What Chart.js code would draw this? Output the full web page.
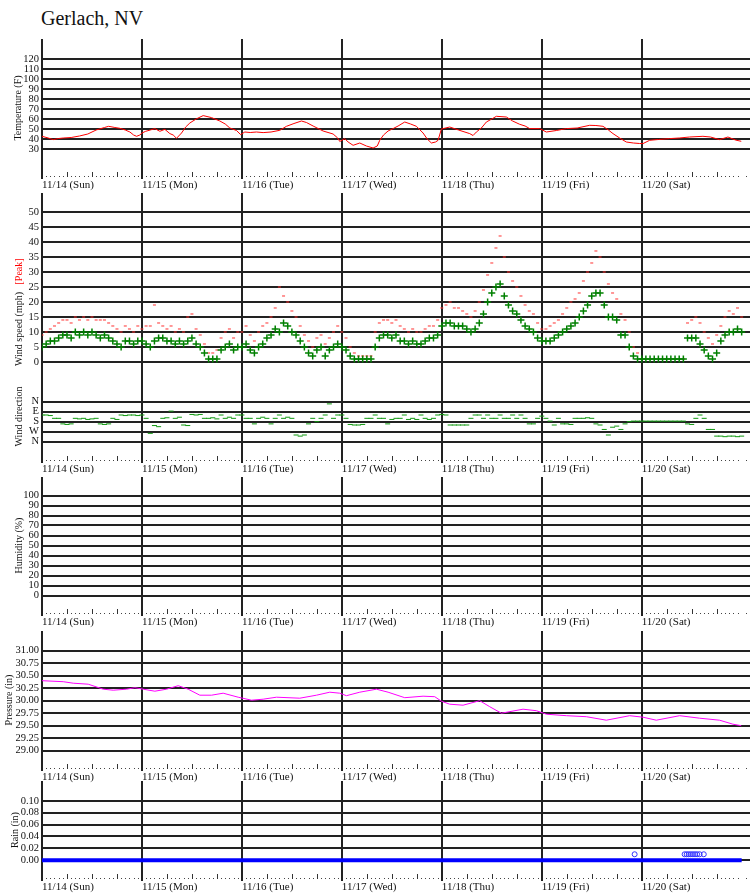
<!DOCTYPE html>
<html>
<head>
<meta charset="utf-8">
<script src="https://cdn.jsdelivr.net/npm/chart.js@4.4.1/dist/chart.umd.min.js"></script>
<style>
body { margin: 0; background: #fff; width: 751px; height: 895px; overflow: hidden; position: relative; }
canvas { position: absolute; left: 0; }
#title { position: absolute; left: 41px; top: 8px; font: 20px "Liberation Serif", "Times New Roman", serif; line-height: 20px; color: #111; }
</style>
</head>
<body>
<div id="title">Gerlach, NV</div>
<canvas id="temp" width="751" height="154" style="top:39px"></canvas>
<canvas id="wind" width="751" height="179" style="top:193px"></canvas>
<canvas id="dir" width="751" height="105" style="top:372px"></canvas>
<canvas id="hum" width="751" height="153" style="top:477px"></canvas>
<canvas id="pres" width="751" height="154" style="top:631px"></canvas>
<canvas id="rain" width="751" height="114" style="top:781px"></canvas>
<script>
// hours since 11/14 00:00
const dayHours = [0, 24, 48, 72, 96, 120, 144];
const dayLabels = ["11/14 (Sun)", "11/15 (Mon)", "11/16 (Tue)", "11/17 (Wed)", "11/18 (Thu)", "11/19 (Fri)", "11/20 (Sat)"];

const tempTicks = [30, 40, 50, 60, 70, 80, 90, 100, 110, 120];
const windTicks = [0, 5, 10, 15, 20, 25, 30, 35, 40, 45, 50];
const dirTicks = [0, 90, 180, 270, 360];
const dirLabels = ["N", "E", "S", "W", "N"];
const humTicks = [0, 10, 20, 30, 40, 50, 60, 70, 80, 90, 100];
const pressTicks = [29, 29.25, 29.5, 29.75, 30, 30.25, 30.5, 30.75, 31];
const rainTicks = [0, 0.02, 0.04, 0.06, 0.08, 0.10];

const tempHours = [0, 1.5, 2.7, 4, 5.1, 7, 9, 11, 13, 15, 16, 17.5, 18.7, 20, 21.1, 22, 22.7, 23.5, 24, 24.9,
  26, 27.1, 28.3, 29.5, 30.7, 31.5, 32.3, 33.5, 34.5, 35.5, 37, 38.7, 40.7, 42.7, 44, 45.1, 46.7, 47.7, 48.7, 50,
  51.5, 53.1, 55, 57.1, 58.7, 60.5, 62.3, 63.5, 65.1, 67.5, 69.9, 71, 71.5, 72.7, 73.5, 74.7, 76.3, 77.9, 79.5, 80.5,
  81.1, 82, 83.1, 84.3, 85.5, 87.1, 88.5, 89.9, 91.5, 92.5, 93.5, 94.5, 95.1, 95.9, 97.9, 100, 102.7, 103.5, 104.3, 105.5,
  106.7, 108, 109.1, 111.5, 113, 114.7, 116, 117.1, 119.5, 121.1, 123.5, 125.9, 128.5, 131.5, 133, 134.7, 136, 137.1, 138.7, 140.3,
  142, 143.5, 144.3, 145.9, 148, 150.7, 153, 155.5, 158.7, 160.5, 162.7, 164.7, 166.5, 167.9];
const tempF = [42.7, 41, 39.4, 40.5, 41, 41.5, 43, 45, 49, 51.5, 52.7, 51.5, 50.7, 49, 47, 44, 42.7, 44, 46, 47.7,
  49, 50.4, 47.7, 49.7, 45.4, 44, 40.7, 46, 52, 56, 60, 63.4, 61.4, 58, 55, 51, 48.5, 44.4, 47, 46.5,
  47, 46.4, 47, 48.7, 52.7, 55.5, 58, 56.5, 53, 48, 45, 41, 37.5, 40.4, 37, 33.7, 36, 33, 31, 33,
  38.7, 44, 48, 50.4, 53, 57, 55, 52.7, 46, 40, 36, 37, 38.7, 50, 52, 49, 45.4, 43.5, 47, 51,
  57, 60, 62.7, 62, 58, 54.7, 53, 50.4, 50.4, 47, 48.5, 50.4, 51, 53.7, 53.5, 52.7, 49, 45.4, 41, 37,
  36, 35.5, 35.4, 38.7, 39.5, 40.4, 41, 42, 42.7, 42, 39.4, 42, 39, 37.7];

// hourly readings, hour 0 .. 168
const windSpeed = [
  5, 6, 7, 7, 8, 9, 9, 8, 10, 9, 10, 9, 10, 9, 8, 9, 8, 7, 6, 5, 7, 7, 6, 7,
  7, 6, 5, 7, 8, 8, 7, 7, 6, 7, 6, 7, 8, 6, 5, 3, 1, 1, 1, 4, 5, 6, 4, 5,
  5, 6, 4, 3, 5, 6, 8, 9, 11, 10, 13, 12, 10, 9, 7, 5, 3, 2, 4, 5, 2, 4, 5, 6,
  5, 4, 2, 1, 1, 1, 1, 1, 5, 8, 9, 9, 8, 9, 7, 7, 6, 7, 6, 6, 7, 8, 8, 9,
  12, 13, 13, 12, 12, 12, 11, 10, 11, 13, 16, 20, 23, 25, 26, 22, 19, 17, 16, 14, 12, 11, 10, 8,
  7, 7, 7, 8, 9, 10, 11, 12, 13, 15, 17, 19, 22, 23, 23, 19, 15, 15, 14, 9, 9, 5, 2, 1,
  1, 1, 1, 1, 1, 1, 1, 1, 1, 1, 1, 8, 8, 8, 6, 4, 2, 1, 3, 7, 9, 10, 10, 11, 10];
const windPeak = [
  9, 10, 11, 12, 13, 14, 14, 13, 15, 14, 15, 14, 15, 14, 14, 14, 13, 12, 11, 10, 12, 11, 10, 12,
  11, 12, 12, 19, 13, 12, 11, 12, 10, 11, 10, 15, 16, 11, 9, 6, 3, 3, 4, 8, 10, 11, 8, 10,
  10, 12, 9, 7, 10, 12, 13, 15, 18, 25, 22, 20, 17, 15, 12, 9, 7, 5, 8, 9, 6, 8, 10, 12,
  10, 8, 5, 3, 2, 2, 2, 2, 10, 13, 14, 14, 13, 14, 12, 11, 10, 11, 10, 10, 11, 12, 12, 14,
  18, 19, 20, 18, 18, 17, 16, 15, 17, 20, 24, 29, 33, 38, 42, 35, 30, 27, 25, 22, 19, 17, 16, 13,
  11, 11, 12, 13, 14, 16, 18, 20, 21, 23, 27, 30, 33, 37, 35, 30, 26, 23, 21, 16, 14, 10, 5, 3,
  1, 1, 1, 1, 1, 1, 1, 1, 1, 1, 1, 13, 14, 15, 13, 10, 8, 6, 9, 12, 15, 17, 16, 18, 15];
const windDir = [
  120, 120, 125, 150, 150, 200, 205, 200, 150, 155, 150, 160, 155, 150, 200, 205, 200, 150, 160, 120, 125, 120, 120, 125,
  120, 150, 285, 215, 225, 150, 145, 85, 150, 140, 210, 215, 115, 120, 115, 150, 150, 145, 155, 120, 150, 140, 150, 120,
  120, 150, 150, 200, 150, 140, 150, 200, 150, 120, 150, 140, 150, 300, 310, 300, 200, 150, 180, 150, 120, 20, 150, 120,
  120, 150, 205, 210, 210, 205, 150, 150, 120, 150, 150, 200, 160, 150, 150, 120, 160, 150, 160, 120, 150, 160, 150, 120,
  115, 120, 210, 210, 210, 210, 210, 150, 120, 120, 150, 120, 150, 150, 120, 150, 150, 120, 150, 120, 150, 200, 200, 150,
  130, 150, 175, 210, 150, 200, 200, 205, 150, 150, 150, 145, 150, 200, 210, 250, 300, 230, 220, 250, 200, 180, 175, 175,
  175, 175, 175, 175, 175, 175, 175, 175, 175, 175, 175, 200, 205, 150, 120, 150, 250, 250, 310, 310, 315, 310, 310, 315, 310];
const rainIn = [
  0, 0, 0, 0, 0, 0, 0, 0, 0, 0, 0, 0, 0, 0, 0, 0, 0, 0, 0, 0, 0, 0, 0, 0,
  0, 0, 0, 0, 0, 0, 0, 0, 0, 0, 0, 0, 0, 0, 0, 0, 0, 0, 0, 0, 0, 0, 0, 0,
  0, 0, 0, 0, 0, 0, 0, 0, 0, 0, 0, 0, 0, 0, 0, 0, 0, 0, 0, 0, 0, 0, 0, 0,
  0, 0, 0, 0, 0, 0, 0, 0, 0, 0, 0, 0, 0, 0, 0, 0, 0, 0, 0, 0, 0, 0, 0, 0,
  0, 0, 0, 0, 0, 0, 0, 0, 0, 0, 0, 0, 0, 0, 0, 0, 0, 0, 0, 0, 0, 0, 0, 0,
  0, 0, 0, 0, 0, 0, 0, 0, 0, 0, 0, 0, 0, 0, 0, 0, 0, 0, 0, 0, 0, 0, 0, 0,
  0, 0, 0, 0, 0, 0, 0, 0, 0, 0, 0, 0, 0, 0, 0, 0, 0, 0, 0, 0, 0, 0, 0, 0, 0];
const rainTipHours = [142.3, 154.3, 154.8, 155.3, 155.8, 156.3, 156.8, 157.3, 157.9, 158.9];
const rainTipIn = [0.01, 0.01, 0.01, 0.01, 0.01, 0.01, 0.01, 0.01, 0.01, 0.01];

const pressHours = [0, 5.1, 7.5, 11.1, 14.7, 17.1, 20.3, 22.3, 24.3, 27.1, 29.9, 32.7, 35.1, 37.9, 40.7, 43.5, 47.1, 50.3, 53.1, 56.3,
  61.9, 65.9, 69.1, 71.5, 73.1, 76.3, 80.3, 83.1, 87.1, 91.5, 94.3, 95.9, 97.9, 101.1, 105.1, 107.5, 110.3, 115.5, 118.7, 121.1,
  125.9, 130.7, 135.5, 141.1, 144.3, 147.5, 153.1, 157.9, 162.7, 165.9, 167.9];
const pressIn = [30.40, 30.38, 30.35, 30.33, 30.23, 30.21, 30.23, 30.26, 30.23, 30.19, 30.23, 30.30, 30.23, 30.11, 30.11, 30.15, 30.07, 30.01, 30.03, 30.07,
  30.05, 30.11, 30.17, 30.15, 30.10, 30.17, 30.23, 30.17, 30.06, 30.09, 30.08, 29.99, 29.93, 29.91, 30.00, 29.88, 29.75, 29.83, 29.80, 29.73,
  29.70, 29.68, 29.61, 29.70, 29.67, 29.61, 29.70, 29.65, 29.61, 29.53, 29.50];

const readingHours = windSpeed.map((_, i) => i);
const pts = (xs, ys) => xs.map((x, i) => ({ x: x, y: ys[i] }));

const SERIF = '"Liberation Serif", "Times New Roman", serif';
const INK = '#111';
const GRID = '#222';

function xAxis(labels) {
  return {
    type: 'linear', min: 0, max: 170,
    afterBuildTicks: s => { s.ticks = dayHours.map(v => ({ value: v })); },
    afterFit: s => { s.height = labels ? 16 : 0; s.paddingLeft = 0; s.paddingRight = 0; },
    ticks: { display: labels, align: 'start', maxRotation: 0, autoSkip: false, padding: 0,
      color: INK, font: { family: SERIF, size: 11 }, callback: (v, i) => dayLabels[i] },
    grid: { color: GRID, lineWidth: 2, drawTicks: labels, tickLength: 2, tickColor: GRID, tickWidth: 2 },
    border: { display: false }
  };
}

function yAxis(min, max, ticks, fmt, title, titlePad, reverse) {
  return {
    type: 'linear', min: min, max: max, reverse: !!reverse,
    afterBuildTicks: s => { s.ticks = ticks.map(v => ({ value: v })); },
    afterFit: s => { s.width = 42; s.paddingTop = 0; s.paddingBottom = 0; },
    ticks: { color: INK, font: { family: SERIF, size: 10.5 }, padding: 3, autoSkip: false, callback: fmt },
    grid: { color: GRID, lineWidth: 2, drawTicks: false },
    border: { display: true, color: GRID, width: 2 },
    title: { display: !!title, text: title, color: INK, font: { family: SERIF, size: 10 },
      padding: { top: titlePad, bottom: 0 } }
  };
}

// dotted hourly time axis with small 6-hour ticks rising from it
const minorTicks = {
  id: 'minorTicks',
  afterDraw(chart, args, opts) {
    if (!opts.show) return;
    const sx = chart.scales.x, b = chart.chartArea.bottom, ctx = chart.ctx;
    ctx.save();
    ctx.fillStyle = '#444';
    ctx.strokeStyle = '#333';
    ctx.lineWidth = 1;
    for (let h = 1; h < 170; h++) {
      const px = Math.round(sx.getPixelForValue(h));
      if (h % 24 === 0) continue;
      if (h % 6 === 0) {
        ctx.beginPath();
        ctx.moveTo(px + 0.5, b);
        ctx.lineTo(px + 0.5, b - 5);
        ctx.stroke();
      } else {
        ctx.fillRect(px, b - 1, 1, 1);
      }
    }
    ctx.restore();
  }
};

// two-colour y title for the wind panel
const windTitle = {
  id: 'windTitle',
  afterDraw(chart, args, opts) {
    if (!opts.show) return;
    const ctx = chart.ctx;
    ctx.save();
    ctx.translate(19, chart.chartArea.bottom - 6);
    ctx.rotate(-Math.PI / 2);
    ctx.font = '10px ' + SERIF;
    ctx.textBaseline = 'middle';
    ctx.textAlign = 'left';
    ctx.fillStyle = INK;
    ctx.fillText('Wind speed (mph)', 0, 0);
    const w = ctx.measureText('Wind speed (mph)   ').width;
    ctx.fillStyle = '#ff0000';
    ctx.fillText('[Peak]', w, 0);
    ctx.restore();
  }
};

function panel(id, datasets, y, labels, extra) {
  return new Chart(document.getElementById(id), {
    type: 'scatter',
    data: { datasets: datasets },
    options: {
      responsive: false,
      animation: false,
      devicePixelRatio: 1,
      layout: { autoPadding: false, padding: { left: 0, right: 1, top: 0, bottom: 0 } },
      scales: { x: xAxis(labels), y: y },
      plugins: {
        legend: { display: false },
        tooltip: { enabled: false },
        minorTicks: { show: labels },
        windTitle: { show: !!(extra && extra.windTitle) }
      }
    },
    plugins: [minorTicks, windTitle]
  });
}

panel('temp', [{
  data: pts(tempHours, tempF), showLine: true, borderColor: '#ff0000', borderWidth: 1, pointRadius: 0
}], yAxis(2, 140, tempTicks, v => v, 'Temperature (F)', 12.3), true);

panel('wind', [{
  data: pts(readingHours, windSpeed), pointStyle: 'cross', pointRadius: 3.5, borderColor: '#008000', borderWidth: 1.5
}, {
  data: pts(readingHours, windPeak), pointStyle: 'line', pointRadius: 1.5, borderColor: '#ff3030', borderWidth: 1
}], yAxis(-10 / 3, 56.333, windTicks, v => v, '', 0), false, { windTitle: true });

panel('dir', [{
  data: pts(readingHours, windDir), pointStyle: 'line', pointRadius: 2.5, borderColor: '#119911', borderWidth: 1
}], yAxis(-267, 534, dirTicks, (v, i) => dirLabels[i], 'Wind direction', 13, true), true);

panel('hum', [], yAxis(-18.5, 118.5, humTicks, v => v, 'Humidity (%)', 13), true);

panel('pres', [{
  data: pts(pressHours, pressIn), showLine: true, borderColor: '#ff00ff', borderWidth: 1, pointRadius: 0
}], yAxis(28.634, 31.394, pressTicks, v => v.toFixed(2), 'Pressure (in)', 3.3), true);

panel('rain', [{
  data: pts(readingHours, rainIn), showLine: true, borderColor: '#0000ff', borderWidth: 4, pointRadius: 0
}, {
  data: pts(rainTipHours, rainTipIn), pointStyle: 'circle', pointRadius: 2.5, borderColor: '#3333ff',
  backgroundColor: 'rgba(0,0,0,0)', borderWidth: 1
}], yAxis(-0.03167, 0.13333, rainTicks, v => v.toFixed(2), 'Rain (in)', 9), true);
</script>
</body>
</html>
